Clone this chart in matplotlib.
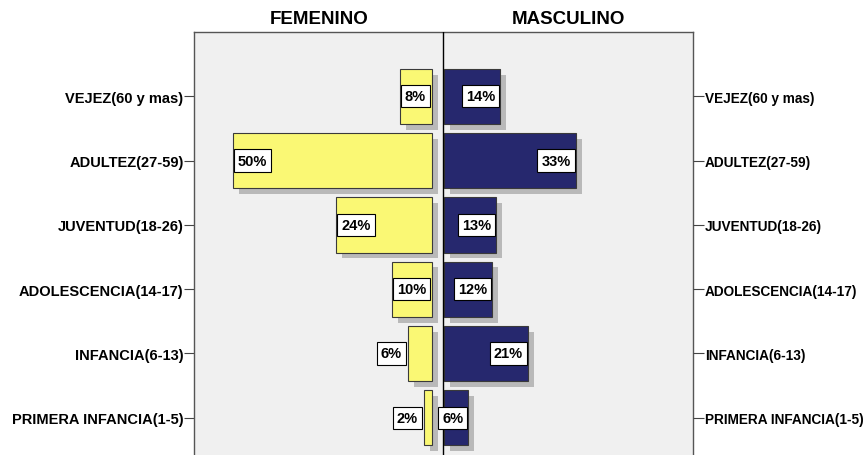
import matplotlib
matplotlib.use("Agg")
import matplotlib.pyplot as plt
import matplotlib.patheffects as pe

plt.rcParams['font.family'] = ['Liberation Sans', 'DejaVu Sans']

# grupos de edad, de arriba hacia abajo
grupos = ["VEJEZ(60 y mas)", "ADULTEZ(27-59)", "JUVENTUD(18-26)",
          "ADOLESCENCIA(14-17)", "INFANCIA(6-13)", "PRIMERA INFANCIA(1-5)"]
femenino = [8, 50, 24, 10, 6, 2]     # %
masculino = [14, 33, 13, 12, 21, 6]  # %

col_fem = "#faf874"
col_masc = "#26286e"
col_fondo = "#f0f0f0"
col_sombra = "#b9b9b9"

W, H = 866, 456
fig = plt.figure(figsize=(W / 100, H / 100), dpi=100)
# panel: x 194..693 px, y 33..483 px (continues below the image)
ax = fig.add_axes([194 / W, 1 - 483 / H, (693 - 194) / W, 450 / H])
ax.set_facecolor(col_fondo)

px = 3.98          # px per percent
gap = 11 / px      # space between yellow bars and centre line
ax.set_xlim(-249 / px, 250 / px)
ax.set_ylim(len(grupos), -1)

y = list(range(len(grupos)))
sombra = [pe.SimplePatchShadow(offset=(4.3, -4.3), shadow_rgbFace=col_sombra, alpha=1.0), pe.Normal()]

bf = ax.barh(y, [-v for v in femenino], left=-gap, height=0.86, color=col_fem,
             edgecolor="#3a3a3a", linewidth=0.8, zorder=2)
bm = ax.barh(y, masculino, left=0.3, height=0.86, color=col_masc,
             edgecolor="#3a3a3a", linewidth=0.8, zorder=2)
for b in list(bf) + list(bm):
    b.set_path_effects(sombra)

ax.axvline(0, color="black", linewidth=1.0, zorder=3)

fs = 10.5
pad = 0.28
pad_pt = pad * fs
caja = dict(boxstyle=f"square,pad={pad}", facecolor="white", edgecolor="black", linewidth=0.8)

def ancho_caja(txt):
    # rough width of the label box in px
    em = fs * 100 / 72
    return (0.556 * (len(txt) - 1) + 0.889) * em + 2 * pad_pt * 100 / 72

for i, v in enumerate(femenino):
    txt = f"{v}%"
    extremo = -gap - v
    if v * px >= ancho_caja(txt):
        ax.annotate(txt, (extremo, i), xytext=(pad_pt + 0.5, 0), textcoords="offset points",
                    ha="left", va="center", fontsize=fs, fontweight="bold", bbox=caja, zorder=4)
    else:
        ax.annotate(txt, (extremo, i), xytext=(-pad_pt - 1.5, 0), textcoords="offset points",
                    ha="right", va="center", fontsize=fs, fontweight="bold", bbox=caja, zorder=4)
for i, v in enumerate(masculino):
    ax.annotate(f"{v}%", (0.3 + v, i), xytext=(-pad_pt - 0.5, 0), textcoords="offset points",
                ha="right", va="center", fontsize=fs, fontweight="bold", bbox=caja, zorder=4)

ax.set_xticks([])
ax.set_yticks(y)
ax.set_yticklabels(grupos, fontsize=10.5, fontweight="bold")
ax.tick_params(axis="y", left=True, right=False, length=7, width=0.8,
               color="#444444", pad=0.5)
for s in ax.spines.values():
    s.set_color("#555555")
    s.set_linewidth(1.0)

# right-hand labels are a bit narrower in the original
ax2 = ax.twinx()
ax2.set_ylim(ax.get_ylim())
ax2.set_yticks(y)
ax2.set_yticklabels(grupos, fontsize=9.8, fontweight="bold")
ax2.tick_params(axis="y", length=8, width=0.8, color="#444444", pad=0.5)
for s in ax2.spines.values():
    s.set_visible(False)

fig.text(319 / W, 1 - 19 / H, "FEMENINO", ha="center", va="center",
         fontsize=13.5, fontweight="bold")
fig.text(568 / W, 1 - 19 / H, "MASCULINO", ha="center", va="center",
         fontsize=13.5, fontweight="bold")

fig.savefig("out.png", dpi=100, facecolor="white")
